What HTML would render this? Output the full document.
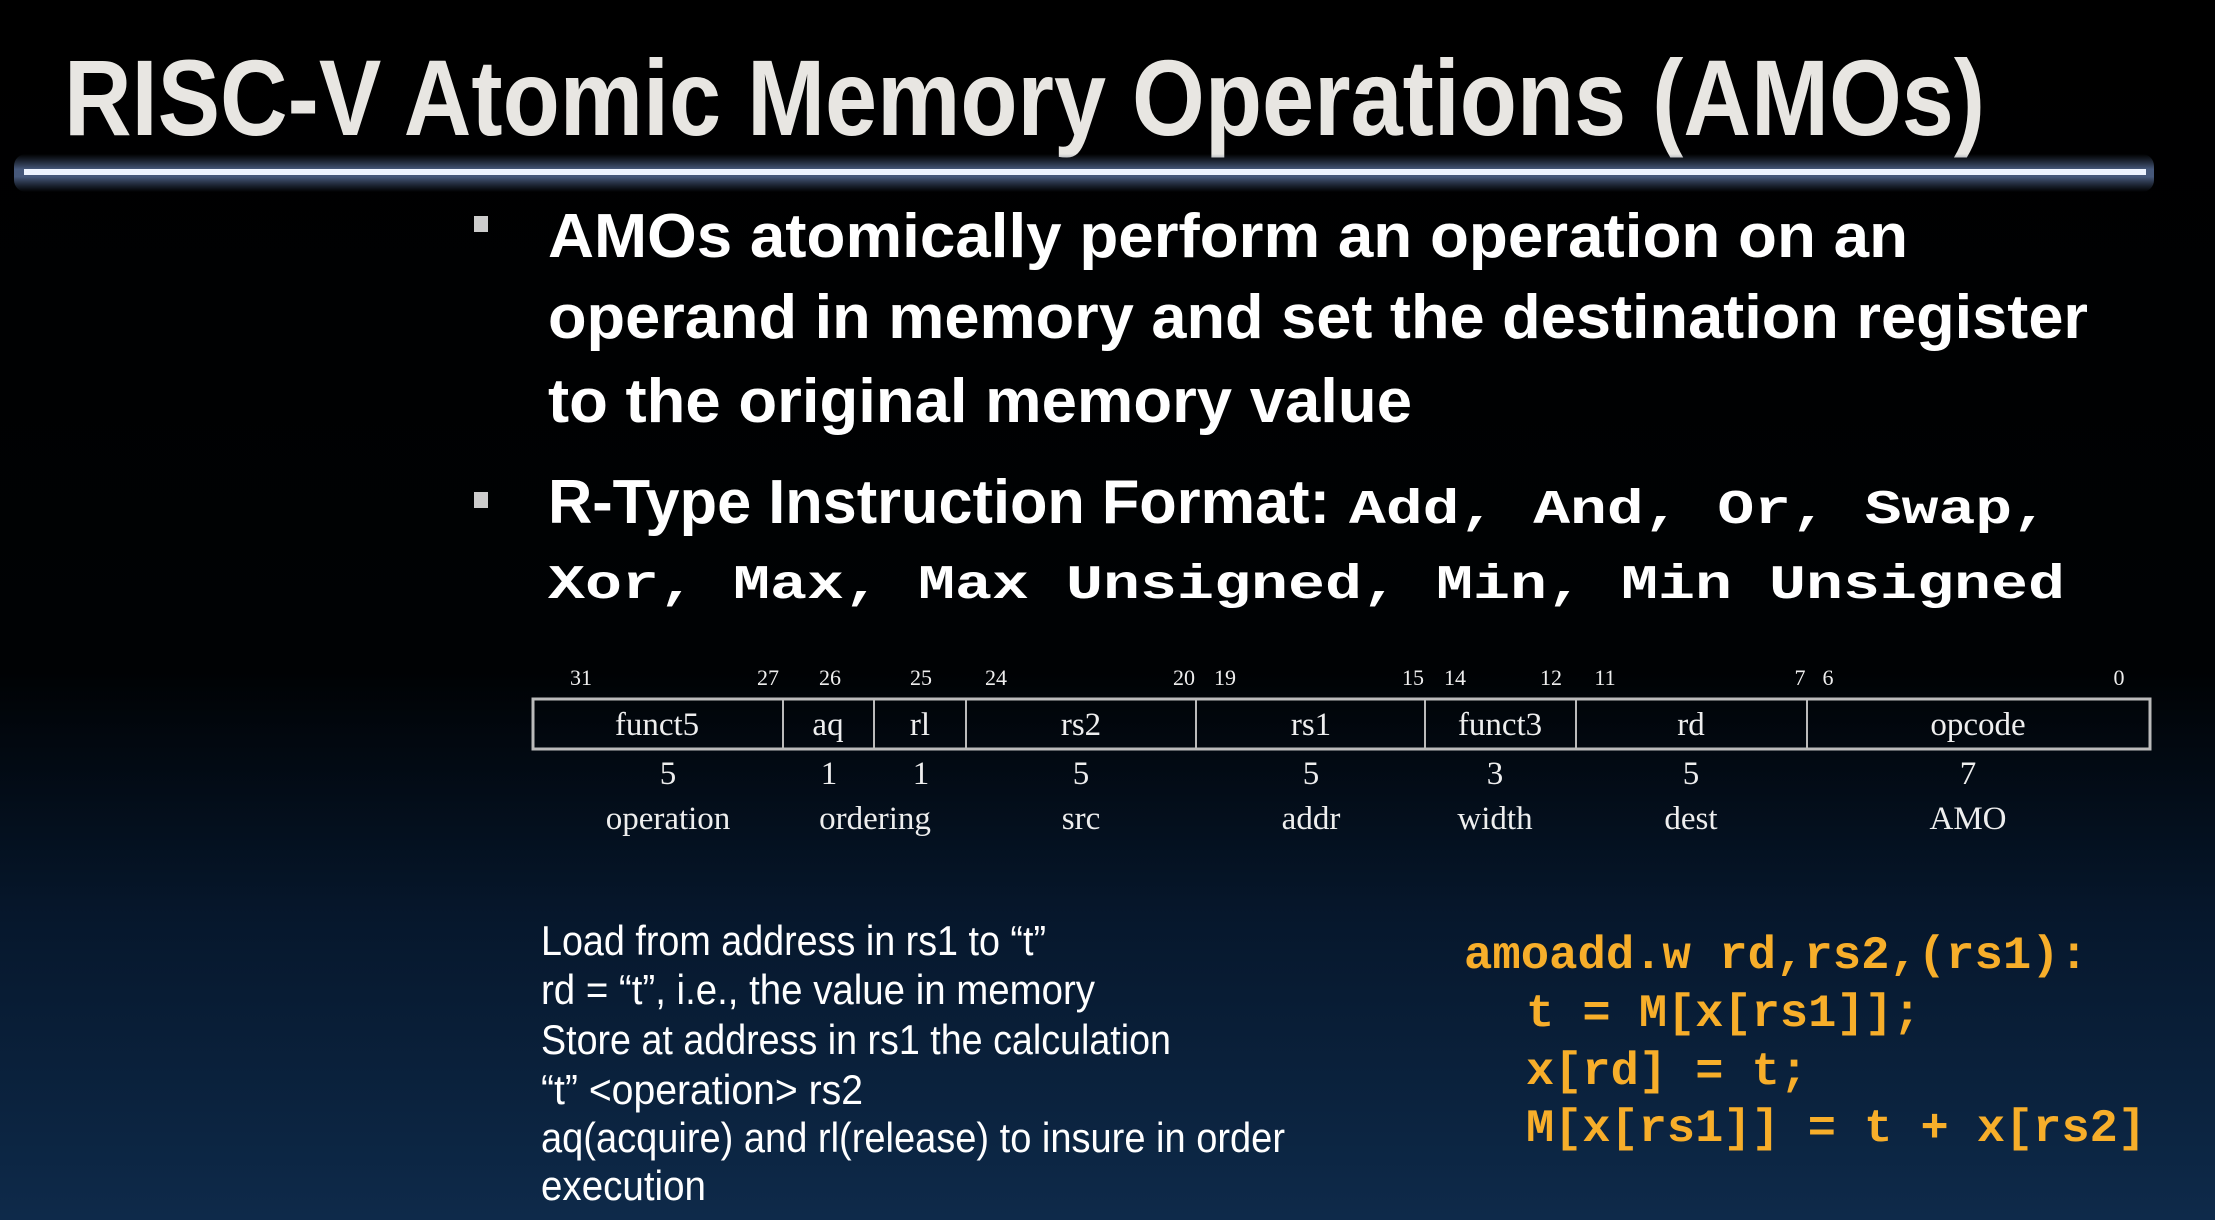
<!DOCTYPE html>
<html><head><meta charset="utf-8"><style>
html,body{margin:0;padding:0;background:#000;width:2215px;height:1220px;overflow:hidden}
svg{display:block}
</style></head><body>
<svg width="2215" height="1220" viewBox="0 0 2215 1220" xmlns="http://www.w3.org/2000/svg">
<defs>
<linearGradient id="bg" x1="0" y1="0" x2="0" y2="1">
<stop offset="0" stop-color="#000"/>
<stop offset="0.55" stop-color="#000204"/>
<stop offset="0.75" stop-color="#06172c"/>
<stop offset="1" stop-color="#0e2a4a"/>
</linearGradient>
<linearGradient id="glow" x1="0" y1="0" x2="0" y2="1">
<stop offset="0" stop-color="#3a4a66" stop-opacity="0"/>
<stop offset="0.4" stop-color="#46587a"/>
<stop offset="0.6" stop-color="#46587a"/>
<stop offset="1" stop-color="#3a4a66" stop-opacity="0"/>
</linearGradient>
</defs>
<rect width="2215" height="1220" fill="url(#bg)"/>
<text x="64" y="135" font-family="Liberation Sans, sans-serif" font-weight="bold" font-size="108" fill="#e8e6e2" textLength="1921" lengthAdjust="spacingAndGlyphs">RISC-V Atomic Memory Operations (AMOs)</text>
<rect x="14" y="154" width="2140" height="38" rx="12" fill="url(#glow)"/>
<rect x="24" y="169" width="2122" height="6" fill="#eef4ff"/>

<g font-family="Liberation Sans, sans-serif" font-weight="bold" font-size="62" fill="#fff">
<rect x="474" y="216" width="14" height="16" fill="#ccc"/>
<text x="548" y="257" textLength="1360" lengthAdjust="spacingAndGlyphs">AMOs atomically perform an operation on an</text>
<text x="548" y="338" textLength="1540" lengthAdjust="spacingAndGlyphs">operand in memory and set the destination register</text>
<text x="548" y="422" textLength="864" lengthAdjust="spacingAndGlyphs">to the original memory value</text>
<rect x="474" y="492" width="14" height="16" fill="#ccc"/>
<text x="548" y="523" textLength="782" lengthAdjust="spacingAndGlyphs">R-Type Instruction Format:</text>
</g>
<g font-family="Liberation Mono, monospace" font-weight="bold" font-size="48" fill="#fff">
<text x="1349" y="523" textLength="700" lengthAdjust="spacingAndGlyphs">Add, And, Or, Swap,</text>
<text x="548" y="598" textLength="1517" lengthAdjust="spacingAndGlyphs">Xor, Max, Max Unsigned, Min, Min Unsigned</text>
</g>

<g font-family="Liberation Serif, serif" fill="#eee" text-anchor="middle">
<g font-size="22">
<text x="581" y="685">31</text><text x="768" y="685">27</text><text x="830" y="685">26</text>
<text x="921" y="685">25</text><text x="996" y="685">24</text><text x="1184" y="685">20</text>
<text x="1225" y="685">19</text><text x="1413" y="685">15</text><text x="1455" y="685">14</text>
<text x="1551" y="685">12</text><text x="1605" y="685">11</text><text x="1800" y="685">7</text>
<text x="1828" y="685">6</text><text x="2119" y="685">0</text>
</g>
<rect x="533" y="699" width="1617" height="50" fill="none" stroke="#bbb" stroke-width="3"/>
<g stroke="#bbb" stroke-width="2">
<line x1="783" y1="699" x2="783" y2="749"/><line x1="874" y1="699" x2="874" y2="749"/>
<line x1="966" y1="699" x2="966" y2="749"/><line x1="1196" y1="699" x2="1196" y2="749"/>
<line x1="1425" y1="699" x2="1425" y2="749"/><line x1="1576" y1="699" x2="1576" y2="749"/>
<line x1="1807" y1="699" x2="1807" y2="749"/>
</g>
<g font-size="33">
<text x="657" y="735">funct5</text><text x="828" y="735">aq</text><text x="920" y="735">rl</text>
<text x="1081" y="735">rs2</text><text x="1311" y="735">rs1</text><text x="1500" y="735">funct3</text>
<text x="1691" y="735">rd</text><text x="1978" y="735">opcode</text>
<text x="668" y="784">5</text><text x="829" y="784">1</text><text x="921" y="784">1</text>
<text x="1081" y="784">5</text><text x="1311" y="784">5</text><text x="1495" y="784">3</text>
<text x="1691" y="784">5</text><text x="1968" y="784">7</text>
<text x="668" y="829">operation</text><text x="875" y="829">ordering</text><text x="1081" y="829">src</text>
<text x="1311" y="829">addr</text><text x="1495" y="829">width</text><text x="1691" y="829">dest</text>
<text x="1968" y="829">AMO</text>
</g>
</g>

<g font-family="Liberation Sans, sans-serif" font-size="42" fill="#fff">
<text x="541" y="955" textLength="505" lengthAdjust="spacingAndGlyphs">Load from address in rs1 to “t”</text>
<text x="541" y="1004" textLength="554" lengthAdjust="spacingAndGlyphs">rd = “t”, i.e., the value in memory</text>
<text x="541" y="1054" textLength="630" lengthAdjust="spacingAndGlyphs">Store at address in rs1 the calculation</text>
<text x="541" y="1104" textLength="322" lengthAdjust="spacingAndGlyphs">“t” &lt;operation&gt; rs2</text>
<text x="541" y="1152" textLength="744" lengthAdjust="spacingAndGlyphs">aq(acquire) and rl(release) to insure in order</text>
<text x="541" y="1200" textLength="165" lengthAdjust="spacingAndGlyphs">execution</text>
</g>
<g font-family="Liberation Mono, monospace" font-weight="bold" font-size="46" fill="#f7ae2a">
<text x="1464" y="968" textLength="624" lengthAdjust="spacingAndGlyphs">amoadd.w rd,rs2,(rs1):</text>
<text x="1526" y="1026" textLength="395" lengthAdjust="spacingAndGlyphs">t = M[x[rs1]];</text>
<text x="1526" y="1084" textLength="282" lengthAdjust="spacingAndGlyphs">x[rd] = t;</text>
<text x="1526" y="1141" textLength="620" lengthAdjust="spacingAndGlyphs">M[x[rs1]] = t + x[rs2]</text>
</g>
</svg>
</body></html>
